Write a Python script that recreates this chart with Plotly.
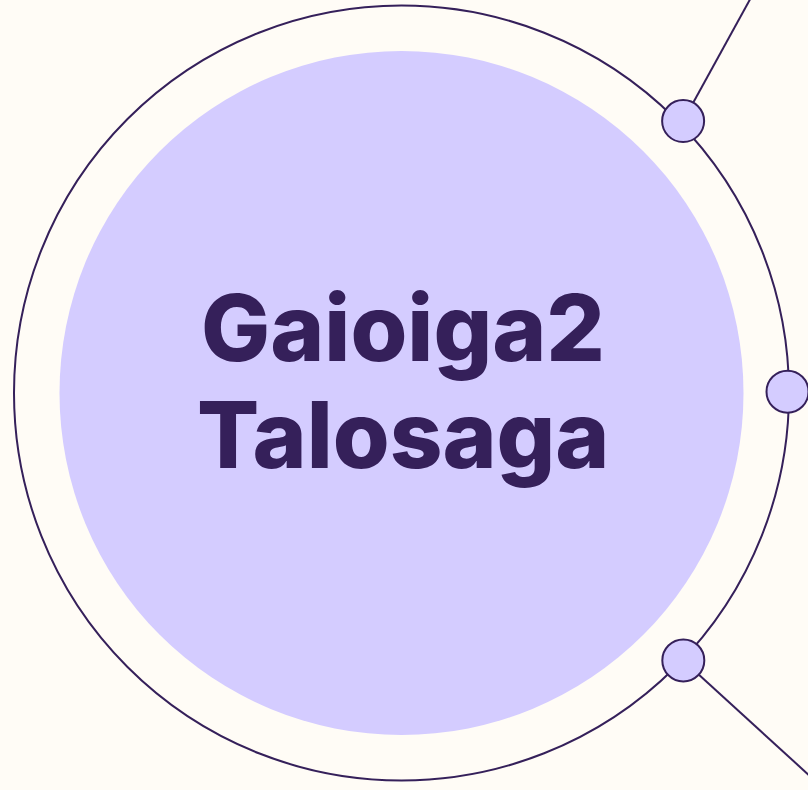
import math
import plotly.graph_objects as go

W, H = 808, 790
BG = "#fffcf6"
INK = "#35205a"
LAV = "#d4ccff"

# Diagram data
title_lines = ["Gaioiga2", "Talosaga"]
ring_center = (401.5, 393.0)
ring_radius = 387.5
inner_radius = 342.0
node_angles = [44.0, 0.2, -43.5]        # degrees, counter-clockwise from +x
node_radii = [391.5, 386.0, 388.5]
node_spoke_angles = [61.2, None, -42.4]  # direction of outgoing line
spoke_length = 400

fig = go.Figure()
cx, cy = ring_center
shapes = []
# inner filled disc
shapes.append(dict(type="circle", xref="x", yref="y", layer="below",
                   x0=cx - inner_radius, x1=cx + inner_radius,
                   y0=cy - inner_radius, y1=cy + inner_radius,
                   fillcolor=LAV, line=dict(width=0)))
# outer ring
shapes.append(dict(type="circle", xref="x", yref="y", layer="below",
                   x0=cx - ring_radius, x1=cx + ring_radius,
                   y0=cy - ring_radius, y1=cy + ring_radius,
                   fillcolor="rgba(0,0,0,0)", line=dict(color=INK, width=2)))

nx, ny = [], []
for a, r, s in zip(node_angles, node_radii, node_spoke_angles):
    x = cx + r * math.cos(math.radians(a))
    y = cy - r * math.sin(math.radians(a))
    nx.append(x)
    ny.append(y)
    if s is not None:
        shapes.append(dict(type="line", xref="x", yref="y", layer="below",
                           x0=x, y0=y,
                           x1=x + spoke_length * math.cos(math.radians(s)),
                           y1=y - spoke_length * math.sin(math.radians(s)),
                           line=dict(color=INK, width=2)))

fig.add_trace(go.Scatter(x=nx, y=ny, mode="markers", hoverinfo="skip",
                         marker=dict(size=42, color=LAV,
                                     line=dict(color=INK, width=2))))

line_y = [327, 434]
for t, yy in zip(title_lines, line_y):
    fig.add_annotation(x=cx + 1, y=yy, xref="x", yref="y", text=t,
                       showarrow=False, xanchor="center", yanchor="middle",
                       font=dict(family="Inter", size=92, color=INK, weight=800))

fig.update_layout(
    width=W, height=H, margin=dict(l=0, r=0, t=0, b=0),
    paper_bgcolor=BG, plot_bgcolor=BG, showlegend=False, shapes=shapes,
    xaxis=dict(range=[0, W], visible=False, fixedrange=True),
    yaxis=dict(range=[H, 0], visible=False, fixedrange=True),
)
fig.write_html("out.html", config={"displayModeBar": False},
               post_script="document.body.style.margin='0';"
                           "document.body.style.overflow='hidden';"
                           "document.body.style.background='" + BG + "';")
